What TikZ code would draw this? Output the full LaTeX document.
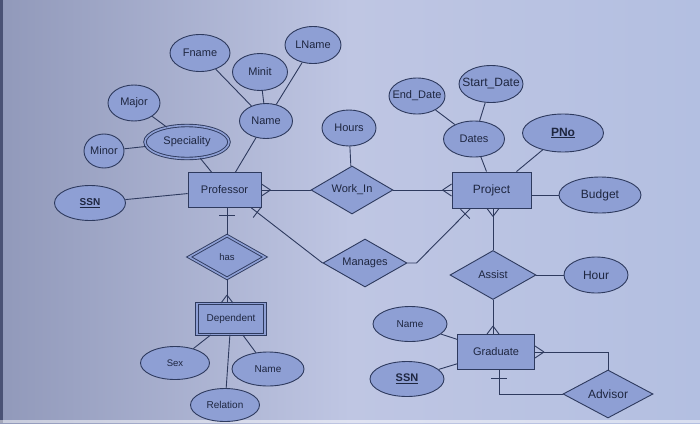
\documentclass[tikz,border=0pt]{standalone}
\usepackage{fontspec}
\setmainfont{Liberation Sans}
\usetikzlibrary{shapes.geometric,calc}
\definecolor{bgL}{HTML}{9199BA}
\definecolor{bgM}{HTML}{BFC6E3}
\definecolor{bgR}{HTML}{B3BFE1}
\definecolor{nfill}{HTML}{8E9FD4}
\definecolor{nline}{HTML}{2E3A5E}
\definecolor{ntext}{HTML}{1E2640}
\definecolor{edge}{HTML}{4A5275}
\newcommand\mkzw[1]{\makebox[0pt]{#1}}
\begin{document}
\begin{tikzpicture}[x=1pt,y=-1pt,
  base/.style={draw=nline, fill=nfill, line width=0.9pt, text=ntext, inner sep=0pt, font=\fontsize{11}{13}\selectfont},
  attr/.style 2 args={base, ellipse, minimum width=#1pt, minimum height=#2pt},
  ent/.style 2 args={base, rectangle, minimum width=#1pt, minimum height=#2pt},
  rel/.style 2 args={base, diamond, aspect=1.7, minimum width=#1pt, minimum height=#2pt},
  dbl/.style={double=nfill, double distance=1.6pt},
  small/.style={font=\fontsize{10}{12}\selectfont},
  tiny/.style={font=\fontsize{9.5}{11}\selectfont},
  big/.style={font=\fontsize{12}{14}\selectfont},
  conn/.style={draw=nline, line width=0.9pt},
  tickmark/.style={sloped, draw=nline, line width=0.9pt, fill=none, inner sep=0pt, minimum width=0pt, minimum height=13pt}
]
\useasboundingbox (0,0) rectangle (700,423);
\shade[left color=bgL, right color=bgR, middle color=bgM] (0,0) rectangle (700,423);
\shade[top color=bgL!0!black, bottom color=black, opacity=0.0] (0,0) rectangle (1,1);
\fill[edge] (0,0) rectangle (3,423);
\fill[white, opacity=0.5] (0,420) rectangle (700,423);

% nodes
\node[attr={60}{37}] (fname) at (200,53) {\mkzw{Fname}};
\node[attr={55}{37}] (minit) at (260,72) {\mkzw{Minit}};
\node[attr={56}{37}] (lname) at (313,45) {\mkzw{LName}};
\node[attr={53}{35}] (pname) at (266,121) {\mkzw{Name}};
\node[attr={52}{36}] (major) at (134,103) {\mkzw{Major}};
\node[attr={84}{33}, dbl] (spec) at (187,142) {\mkzw{Speciality}};
\node[attr={40}{34}] (minor) at (104,151) {\mkzw{Minor}};
\node[ent={73}{35}] (prof) at (224.5,190) {\mkzw{Professor}};
\node[attr={71}{35}, small] (pssn) at (90,203) {\mkzw{\underline{\textbf{SSN}}}};
\node[attr={54}{36}] (hours) at (349,128) {\mkzw{Hours}};
\node[rel={82}{48}] (work) at (352,190) {\mkzw{Work\_In}};
\node[attr={56}{36}] (edate) at (417,96) {\mkzw{End\_Date}};
\node[attr={64}{37}, big] (sdate) at (491,84) {\mkzw{Start\_Date}};
\node[attr={61}{36}] (dates) at (474,139) {\mkzw{Dates}};
\node[attr={81}{38}, big] (pno) at (563,133) {\mkzw{\underline{\textbf{PNo}}}};
\node[ent={79}{36}, big] (proj) at (491.5,190) {\mkzw{Project}};
\node[attr={82}{36}, big] (budget) at (600,195) {\mkzw{Budget}};
\node[rel={76}{43}, dbl, tiny] (has) at (227,257) {\mkzw{has}};
\node[rel={84}{48}] (man) at (365,263) {\mkzw{Manages}};
\node[rel={86}{49}] (assist) at (493,275) {\mkzw{Assist}};
\node[attr={64}{36}, big] (hour) at (596,275) {\mkzw{Hour}};
\node[ent={68}{31}, dbl, small] (dep) at (231,319) {\mkzw{Dependent}};
\node[attr={69}{33}, tiny] (sex) at (175,363) {\mkzw{Sex}};
\node[attr={72}{34}, small] (dname) at (268,369) {\mkzw{Name}};
\node[attr={69}{33}, small] (rel) at (225,405) {\mkzw{Relation}};
\node[attr={74}{35}, small] (gname) at (410,324) {\mkzw{Name}};
\node[ent={77}{35}] (grad) at (496,352) {\mkzw{Graduate}};
\node[attr={74}{35}] (gssn) at (407,379) {\mkzw{\underline{\textbf{SSN}}}};
\node[rel={90}{48}, big] (adv) at (608,394) {\mkzw{Advisor}};

% connectors
\draw[conn] (fname) -- (pname);
\draw[conn] (minit) -- (pname);
\draw[conn] (lname) -- (pname);
\draw[conn] (major) -- (spec);
\draw[conn] (minor) -- (spec);
\draw[conn] (spec) -- ([xshift=-13pt]prof.north);
\draw[conn] (pname) -- ([xshift=11pt]prof.north);
\draw[conn] (pssn) -- (prof);
\draw[conn] (prof) -- (work);
\draw[conn] (work) -- (proj);
\draw[conn] (hours) -- (work);
\draw[conn] (edate) -- (dates);
\draw[conn] (sdate) -- (dates);
\draw[conn] (dates) -- ([xshift=-5pt]proj.north);
\draw[conn] (pno) -- ([xshift=25pt]proj.north);
\draw[conn] (proj.east |- budget) -- (budget);
\draw[conn] (prof.south -| has.north) -- (has.north);
\draw[conn] (has.south) -- (has.south |- dep.north);
\draw[conn] (dep) -- (sex);
\draw[conn] (dep) -- (rel);
\draw[conn] (dep) -- (dname);
\draw[conn] ([xshift=-10pt]prof.south east) -- node[tickmark, pos=0.08]{} (man.west);
\draw[conn] (man.east) -- ++(9,0) -- node[tickmark, pos=0.9]{} ([xshift=19pt]proj.south west);
\draw[conn] (assist.north |- proj.south) -- (assist.north);
\draw[conn] (assist) -- (hour);
\draw[conn] (assist.south) -- (assist.south |- grad.north);
\draw[conn] (gname) -- (grad);
\draw[conn] (gssn) -- (grad);
\draw[conn] (grad.east) -| (adv.north);
\draw[conn] ([xshift=3pt]grad.south) |- (adv.west);

% crow's feet
\draw[conn] ($(prof.east)+(9,0)$) -- ($(prof.east)+(0,-6)$) ($(prof.east)+(9,0)$) -- ($(prof.east)+(0,6)$);
\draw[conn] ($(proj.west)+(-9,0)$) -- ($(proj.west)+(0,-6)$) ($(proj.west)+(-9,0)$) -- ($(proj.west)+(0,6)$);
\coordinate (cfD) at (has.south |- dep.north);
\draw[conn] ($(cfD)+(0,-8)$) -- ($(cfD)+(-6,0)$) ($(cfD)+(0,-8)$) -- ($(cfD)+(6,0)$);
\coordinate (cfP) at (assist.north |- proj.south);
\draw[conn] ($(cfP)+(0,8)$) -- ($(cfP)+(-6,0)$) ($(cfP)+(0,8)$) -- ($(cfP)+(6,0)$);
\coordinate (cfG) at (assist.south |- grad.north);
\draw[conn] ($(cfG)+(0,-8)$) -- ($(cfG)+(-6,0)$) ($(cfG)+(0,-8)$) -- ($(cfG)+(6,0)$);
\draw[conn] ($(grad.east)+(9,0)$) -- ($(grad.east)+(0,-6)$) ($(grad.east)+(9,0)$) -- ($(grad.east)+(0,6)$);

% bars
\coordinate (bP) at ($(prof.south -| has.north)+(0,7)$);
\draw[conn] ($(bP)+(-8,0)$) -- ($(bP)+(8,0)$);
\coordinate (bG) at ($([xshift=3pt]grad.south)+(0,8)$);
\draw[conn] ($(bG)+(-8,0)$) -- ($(bG)+(8,0)$);
\end{tikzpicture}
\end{document}
